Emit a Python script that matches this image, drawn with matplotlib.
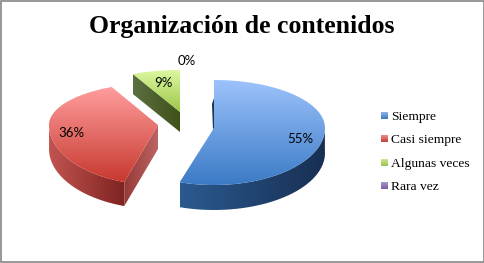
import numpy as np
import matplotlib
matplotlib.use("Agg")
import matplotlib.pyplot as plt
from matplotlib.patches import PathPatch, Rectangle
from matplotlib.path import Path

title = "Organización de contenidos"
categories = ["Siempre", "Casi siempre", "Algunas veces", "Rara vez"]
values = [55, 36, 9, 0]

# apex x, apex y, rx, ry back, ry front, depth for each slice (pixels)
geom = [(214, 128, 111, 48, 57, 25),
        (158, 125, 109, 42, 60, 24),
        (180, 112, 111, 42, 50, 20)]
# top face gradient, outer wall gradient, cut face gradient
top_cols = [("#9cc2fb", "#3b7bc6"), ("#ff9e9e", "#c8392f"), ("#dcf7a0", "#9cc748")]
wall_cols = [("#2b5a90", "#182f52"), ("#c25450", "#7f2321"), ("#4d6326", "#3d521a")]
cut_cols = [("#162d4e", "#1d3a60"), ("#963a38", "#bb6463"), ("#5c7040", "#3f5119")]
legend_cols = [("#8fb6ec", "#3f77be"), ("#f08a88", "#c0403c"),
               ("#cdea90", "#98bf50"), ("#ab94cc", "#7a5ca6")]
label_pos = [(300, 139), (71, 133), (163, 83), (187, 61)]
legend_y = [117, 140, 164, 187]

plt.rcParams['font.family'] = 'Lato'
fig = plt.figure(figsize=(4.85, 2.63), dpi=100)
ax = fig.add_axes([0, 0, 1, 1])
ax.axis('off')


def rim(g, t):
    # t is clockwise from the top, the far half looks squeezed towards the top
    ax0, ay0, rx, ryb, ryf, d = g
    t = np.asarray(t, dtype=float)
    t = np.where(np.cos(t) > 0, t - 0.14 * np.sin(2 * t), t)
    c = np.cos(t)
    return ax0 + rx * np.sin(t), ay0 - c * np.where(c > 0, ryb, ryf)


def hex_rgb(h):
    return np.array(matplotlib.colors.to_rgb(h))


def grad_fill(verts, cols, horizontal=False, z=2):
    verts = np.array(verts)
    patch = PathPatch(Path(verts), fc='none', ec='none', zorder=z)
    ax.add_patch(patch)
    n = np.linspace(0, 1, 64)
    img = np.outer(1 - n, hex_rgb(cols[0])) + np.outer(n, hex_rgb(cols[1]))
    img = img[None, :, :] if horizontal else img[:, None, :]
    x0, y0 = verts.min(axis=0)
    x1, y1 = verts.max(axis=0)
    im = ax.imshow(img, extent=(x0, x1, y1, y0), aspect='auto',
                   interpolation='bilinear', zorder=z)
    im.set_clip_path(patch)


ax.add_patch(Rectangle((0.7, 0.7), 483.4, 261.4, fc='white', ec='#868686', lw=1.2, zorder=0))

angles = np.cumsum([0] + values) / sum(values) * 2 * np.pi
order = [2, 1, 0]
for i in order:
    g = geom[i]
    a0, a1 = angles[i], angles[i + 1]
    t = np.linspace(a0, a1, 120)
    x, y = rim(g, t)
    apex = (g[0], g[1])
    d = g[5]
    z = 2 + order.index(i)

    # outer wall, only the part on the near half shows
    tw = t[np.cos(t) < 0.05]
    if len(tw) > 1 and i != 2:
        xw, yw = rim(g, tw)
        wall = list(zip(xw, yw)) + list(zip(xw[::-1], yw[::-1] + d))
        grad_fill(wall, wall_cols[i], True, z)

    # cut faces
    ex, ey = rim(g, a0)
    if i == 1:
        grad_fill([(ex, ey), apex, (apex[0], apex[1] + d), (ex, ey + d)], cut_cols[i], True, z)
    if i == 2:
        ex, ey = x[0], y[0]
        grad_fill([(ex, ey), apex, (apex[0], apex[1] + d), (ex, ey + d)], cut_cols[i], True, z)
    if i == 0:
        grad_fill([(ex, ey + 18), (apex[0] - 2, (apex[1] + ey) / 2), (apex[0] - 1, apex[1] + 2), apex],
                  cut_cols[i], True, z)

    grad_fill([apex] + list(zip(x, y)), top_cols[i], False, z + 0.5)

for v, p in zip(values, label_pos):
    ax.text(p[0], p[1], f"{v}%", ha='center', va='center', fontsize=9.5, color='black', zorder=10)

ax.text(242, 26, title, ha='center', va='center', fontsize=18.5, fontweight='bold',
        family='Liberation Serif', color='black', zorder=10)

for name, y, cols in zip(categories, legend_y, legend_cols):
    grad_fill([(381, y - 5), (388, y - 5), (388, y + 2), (381, y + 2)], cols, False, 5)
    ax.text(391, y, name, ha='left', va='center', fontsize=9.7,
            family='Liberation Serif', color='black', zorder=10)

ax.set_xlim(0, 485)
ax.set_ylim(263, 0)
fig.savefig('out.png', dpi=100)
